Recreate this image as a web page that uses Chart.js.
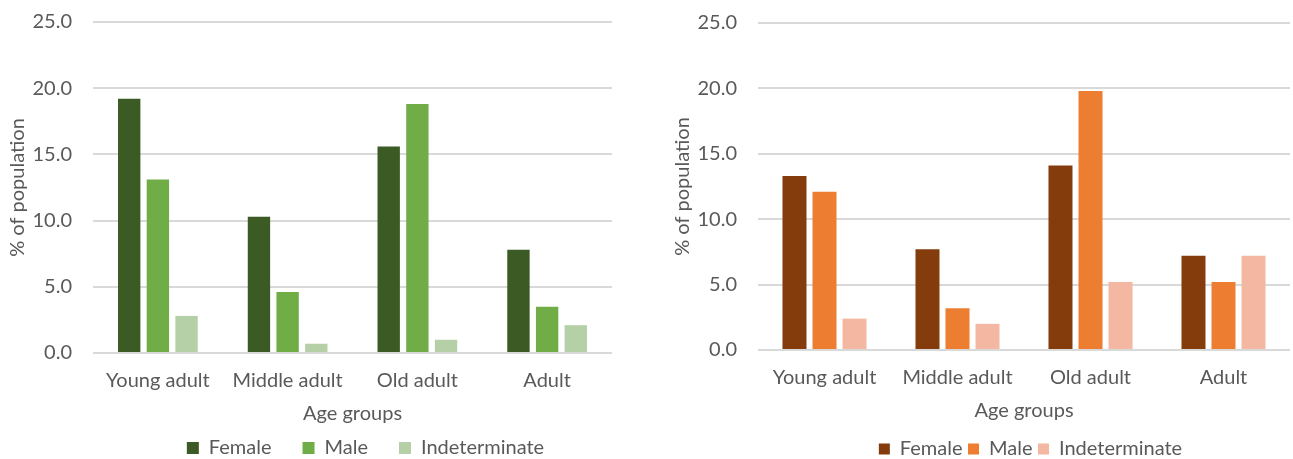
<!DOCTYPE html>
<html><head><meta charset="utf-8">
<script src="https://cdn.jsdelivr.net/npm/chart.js@4.4.1/dist/chart.umd.min.js"></script>
<style>
html,body{margin:0;padding:0;background:#fff;width:1293px;height:459px;overflow:hidden}
.box{position:absolute;top:0;height:459px}
#b1{left:0;width:650px}
#b2{left:660px;width:633px}
</style></head><body>
<div class="box" id="b1"><canvas id="c1"></canvas></div>
<div class="box" id="b2"><canvas id="c2"></canvas></div>
<script>
// ---- data ----
const categories = ['Young adult', 'Middle adult', 'Old adult', 'Adult'];
const seriesNames = ['Female', 'Male', 'Indeterminate'];
const leftFemale = [19.2, 10.3, 15.6, 7.8];
const leftMale = [13.1, 4.6, 18.8, 3.5];
const leftIndeterminate = [2.8, 0.7, 1.0, 2.1];
const rightFemale = [13.3, 7.7, 14.1, 7.2];
const rightMale = [12.1, 3.2, 19.8, 5.2];
const rightIndeterminate = [2.4, 2.0, 5.2, 7.2];
const yTickValues = [0, 5, 10, 15, 20, 25];
const xAxisTitle = 'Age groups';
const yAxisTitle = '% of population';

// ---- styles ----
const FONT = 'Lato, "Open Sans", sans-serif';
const FS = 20;
const TXT = '#595959';
const greens = ['#3b5a24', '#70ad47', '#b5d0a6'];
const oranges = ['#843c0c', '#ed7d31', '#f4b8a2'];

function makeChart(id, values, colors, cfg) {
  const datasets = seriesNames.map((n, i) => ({
    label: n,
    data: values[i],
    backgroundColor: colors[i],
    borderWidth: 0,
    barPercentage: cfg.barPct,
    categoryPercentage: cfg.catPct
  }));
  const legendPlacer = {
    id: 'legendPlacer',
    afterLayout(chart) {
      const lg = chart.legend;
      if (!lg) return;
      const ih = Math.max(FS, cfg.box);
      const top = cfg.legendY - cfg.legendPad - ih / 2;
      lg.top = top;
      lg.height = cfg.legendPad + ih + 6;
      lg.bottom = top + lg.height;
      lg.left += cfg.legendDx;
      lg.right += cfg.legendDx;
    }
  };
  return new Chart(document.getElementById(id), {
    type: 'bar',
    data: { labels: categories, datasets },
    plugins: [legendPlacer],
    options: {
      responsive: true,
      maintainAspectRatio: false,
      animation: false,
      events: [],
      layout: { padding: { top: cfg.top, right: cfg.padRight, bottom: 0, left: 0 } },
      plugins: {
        tooltip: { enabled: false },
        legend: {
          position: 'bottom',
          fullSize: false,
          maxHeight: 1,
          labels: {
            boxWidth: cfg.box, boxHeight: cfg.box,
            padding: cfg.legendPad,
            color: TXT,
            font: { family: FONT, size: FS }
          }
        }
      },
      scales: {
        x: {
          grid: { display: false, drawTicks: false },
          border: { display: false },
          ticks: { color: TXT, font: { family: FONT, size: FS }, padding: cfg.xTickPad, maxRotation: 0, autoSkip: false },
          title: { display: true, text: xAxisTitle, color: TXT, font: { family: FONT, size: FS }, padding: { top: 0, bottom: cfg.xTitlePadB } },
          afterFit(s) { s.height = cfg.xAxisH; s.paddingLeft = 0; s.paddingRight = 0; }
        },
        y: {
          min: 0, max: 25,
          afterBuildTicks(s) { s.ticks = yTickValues.map(v => ({ value: v })); },
          grid: { color: '#d9d9d9', lineWidth: 2, drawTicks: false },
          border: { display: false },
          ticks: { color: TXT, font: { family: FONT, size: FS }, padding: 21, callback: v => Number(v).toFixed(1) },
          title: { display: true, text: yAxisTitle, color: TXT, font: { family: FONT, size: FS }, padding: { top: cfg.yTitlePad, bottom: 0 } },
          afterFit(s) { s.width = cfg.yAxisW; s.paddingTop = 0; s.paddingBottom = 0; }
        }
      }
    }
  });
}

makeChart('c1', [leftFemale, leftMale, leftIndeterminate], greens, {
  barPct: 0.78, catPct: 0.663,
  top: 22, padRight: 38, yAxisW: 93, yTitlePad: 5.5,
  xAxisH: 459 - 353 - 1, xTickPad: 16, xTitlePadB: 32,
  legendY: 448, legendPad: 31, legendDx: 13, box: 12
});
makeChart('c2', [rightFemale, rightMale, rightIndeterminate], oranges, {
  barPct: 0.8, catPct: 0.677,
  top: 23, padRight: 3, yAxisW: 98, yTitlePad: 11,
  xAxisH: 459 - 350 - 1, xTickPad: 16, xTitlePadB: 35,
  legendY: 449, legendPad: 5.5, legendDx: 6.5, box: 11
});
</script>
</body></html>
